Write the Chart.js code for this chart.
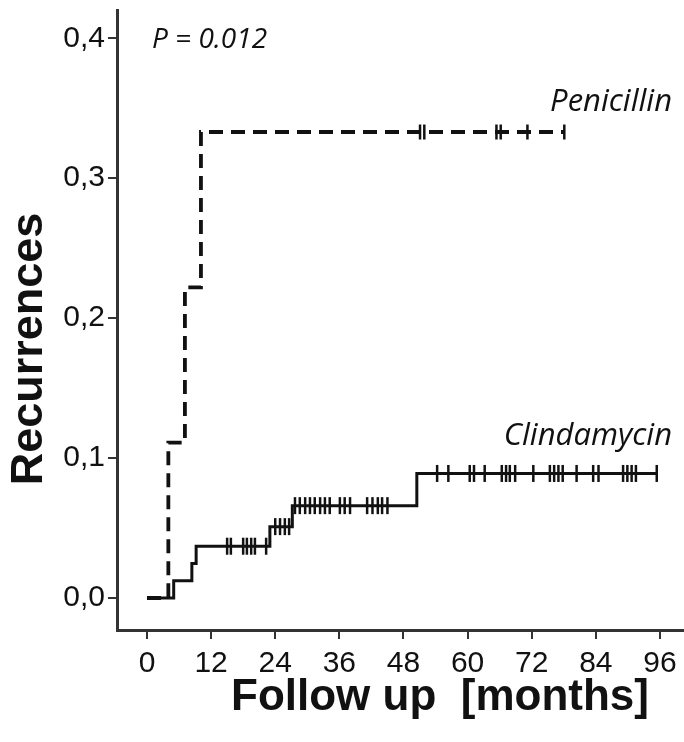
<!DOCTYPE html>
<html><head><meta charset="utf-8">
<script src="https://cdn.jsdelivr.net/npm/chart.js@4.4.1/dist/chart.umd.min.js"></script>
<style>html,body{margin:0;padding:0;background:#fff;} canvas{display:block;}</style>
</head><body>
<canvas id="c" width="684" height="742"></canvas>
<script>
// ---- data ----
const xTicks = [0, 12, 24, 36, 48, 60, 72, 84, 96];
const yTicks = [0, 0.1, 0.2, 0.3, 0.4];
const clindTimes  = [0, 5.0, 8.4, 9.2, 23.0, 27.2, 50.5, 95.4];
const clindValues = [0, 0.0123, 0.0247, 0.037, 0.051, 0.066, 0.089, 0.089];
const penTimes  = [0, 4.0, 7.1, 10.1, 78.1];
const penValues = [0, 0.111, 0.222, 0.333, 0.333];
const clindCensor = [15.0, 15.7, 18.0, 18.7, 19.5, 20.2, 22.3,
  24.0, 24.9, 25.8, 26.6,
  27.7, 28.6, 29.6, 30.5, 31.4, 32.4, 33.3, 34.2, 36.1, 37.0, 38.0, 41.2, 42.2, 43.2, 44.0, 45.0,
  54.3, 56.4, 60.4, 61.2, 63.2, 66.4, 67.2, 67.9, 68.9, 72.3, 75.4, 76.2, 77.0, 77.8, 80.4,
  83.5, 84.5, 89.1, 89.9, 90.7, 91.5, 95.4];
const penCensor = [51.1, 51.9, 65.4, 66.2, 71.2, 78.1];

function stepAt(times, values, t) {
  let v = values[0];
  for (let i = 0; i < times.length; i++) if (times[i] <= t) v = values[i];
  return v;
}
const pts = (ts, vs) => ts.map((t, i) => ({x: t, y: vs[i]}));
const censorPts = (cs, ts, vs) => cs.map(t => ({x: t, y: stepAt(ts, vs, t)}));

const INK = '#111';
const AXIS = '#333';
const SANS = '"Liberation Sans", Arial, sans-serif';

const textPlugin = {
  id: 'texts',
  afterDraw(chart) {
    const ctx = chart.ctx;
    ctx.save();
    ctx.fillStyle = '#111';
    ctx.textBaseline = 'middle';
    ctx.font = 'italic 28px "Open Sans"';
    ctx.textAlign = 'left';
    ctx.fillText('P = 0.012', 152, 40);
    ctx.textAlign = 'right';
    ctx.font = 'italic 31px "Open Sans"';
    ctx.fillText('Penicillin', 672, 102);
    ctx.fillText('Clindamycin', 672, 436);
    // axis titles
    ctx.fillStyle = INK;
    ctx.font = 'bold 44px ' + SANS;
    ctx.textAlign = 'center';
    ctx.fillText('Follow up  [months]', 440, 698);
    ctx.translate(30, 349);
    ctx.rotate(-Math.PI / 2);
    ctx.font = 'bold 45px ' + SANS;
    ctx.fillText('Recurrences', 0, 0);
    ctx.restore();
  }
};

new Chart(document.getElementById('c'), {
  type: 'line',
  data: {
    datasets: [
      {
        label: 'Clindamycin',
        data: pts(clindTimes, clindValues),
        stepped: true,
        borderColor: INK, borderWidth: 3,
        pointRadius: 0, fill: false
      },
      {
        label: 'Penicillin',
        data: pts(penTimes, penValues),
        stepped: true,
        borderColor: INK, borderWidth: 3.8,
        borderDash: [14, 8],
        pointRadius: 0, fill: false
      },
      {
        label: 'Clindamycin censored',
        data: censorPts(clindCensor, clindTimes, clindValues),
        showLine: false,
        pointStyle: 'line', rotation: 90, pointRadius: 8.5,
        pointBorderWidth: 2.5, borderColor: INK, pointBorderColor: INK
      },
      {
        label: 'Penicillin censored',
        data: censorPts(penCensor, penTimes, penValues),
        showLine: false,
        pointStyle: 'line', rotation: 90, pointRadius: 7.5,
        pointBorderWidth: 2.5, borderColor: INK, pointBorderColor: INK
      }
    ]
  },
  options: {
    responsive: false,
    animation: false,
    devicePixelRatio: 1,
    layout: { autoPadding: false, padding: { top: 10, right: 0, bottom: 0, left: 0 } },
    plugins: { legend: { display: false }, tooltip: { enabled: false } },
    elements: { line: { tension: 0 } },
    scales: {
      x: {
        type: 'linear',
        min: -5.61, max: 100.5,
        afterBuildTicks: s => { s.ticks = xTicks.map(v => ({value: v})); },
        afterFit: s => { s.height = 112; s.paddingLeft = 0; s.paddingRight = 0; },
        ticks: {
          autoSkip: false, maxRotation: 0, padding: 7,
          color: INK,
          font: { family: SANS, size: 30 },
          callback: v => String(v)
        },
        grid: { display: true, drawOnChartArea: false, drawTicks: true, tickLength: 9, color: AXIS, lineWidth: 2 },
        border: { display: true, color: AXIS, width: 3 },
        title: { display: false }
      },
      y: {
        type: 'linear',
        min: -0.02287, max: 0.4202,
        afterBuildTicks: s => { s.ticks = yTicks.map(v => ({value: v})); },
        afterFit: s => { s.width = 117; s.paddingTop = 0; s.paddingBottom = 0; },
        ticks: {
          padding: 3, color: INK,
          font: { family: SANS, size: 30 },
          callback: v => v.toFixed(1).replace('.', ',')
        },
        grid: { display: true, drawOnChartArea: false, drawTicks: true, tickLength: 9, color: AXIS, lineWidth: 2 },
        border: { display: true, color: AXIS, width: 3 },
        title: { display: false }
      }
    }
  },
  plugins: [textPlugin]
});
</script>
</body></html>
